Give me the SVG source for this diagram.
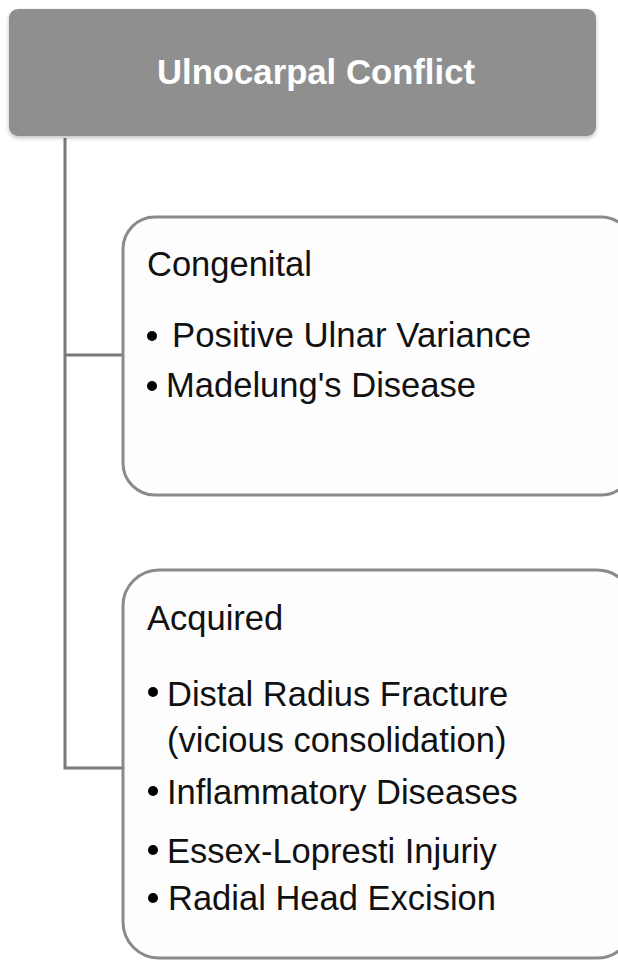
<svg xmlns="http://www.w3.org/2000/svg" width="618" height="960" viewBox="0 0 618 960">
<defs>
<style>
.box{fill:#fdfdfd;stroke:#8a8a8a;stroke-width:3}
.txt{font-family:"Liberation Sans",Arial,sans-serif;font-size:34.5px;fill:#111}
.title{font-family:"Liberation Sans",Arial,sans-serif;font-size:35px;font-weight:bold;fill:#fff}
.con{fill:none;stroke:#7a7a7a;stroke-width:3}
.dot{fill:#000}
</style>
<filter id="sh" x="-5%" y="-5%" width="110%" height="120%"><feDropShadow dx="0" dy="2" stdDeviation="2" flood-color="#000" flood-opacity="0.25"/></filter>
</defs>
<rect width="618" height="960" fill="#fff"/>
<g id="connectors">
<path class="con" d="M65 138 V768 H123"/>
<path class="con" d="M65 355 H123"/>
</g>
<g id="root">
<rect x="9" y="9" width="587" height="127" rx="9" fill="#8f8f8f" filter="url(#sh)"/>
<text class="title" x="316" y="84" text-anchor="middle" textLength="318" lengthAdjust="spacingAndGlyphs">Ulnocarpal Conflict</text>
</g>
<g id="congenital">
<rect class="box" x="123" y="217" width="510" height="278" rx="32"/>
<text class="txt" x="147" y="276">Congenital</text>
<circle class="dot" cx="152" cy="336" r="5"/>
<text class="txt" x="172" y="347" textLength="359" lengthAdjust="spacingAndGlyphs">Positive Ulnar Variance</text>
<circle class="dot" cx="152" cy="386" r="5"/>
<text class="txt" x="166" y="397" textLength="310" lengthAdjust="spacingAndGlyphs">Madelung's Disease</text>
</g>
<g id="acquired">
<rect class="box" x="123" y="570" width="510" height="388" rx="36"/>
<text class="txt" x="147" y="630">Acquired</text>
<circle class="dot" cx="153" cy="692" r="5"/>
<text class="txt" x="167" y="706">Distal Radius Fracture</text>
<text class="txt" x="167" y="752">(vicious consolidation)</text>
<circle class="dot" cx="153" cy="791" r="5"/>
<text class="txt" x="167" y="804">Inflammatory Diseases</text>
<circle class="dot" cx="153" cy="850" r="5"/>
<text class="txt" x="167" y="863">Essex-Lopresti Injuriy</text>
<circle class="dot" cx="153" cy="898" r="5"/>
<text class="txt" x="168" y="910">Radial Head Excision</text>
</g>
</svg>
